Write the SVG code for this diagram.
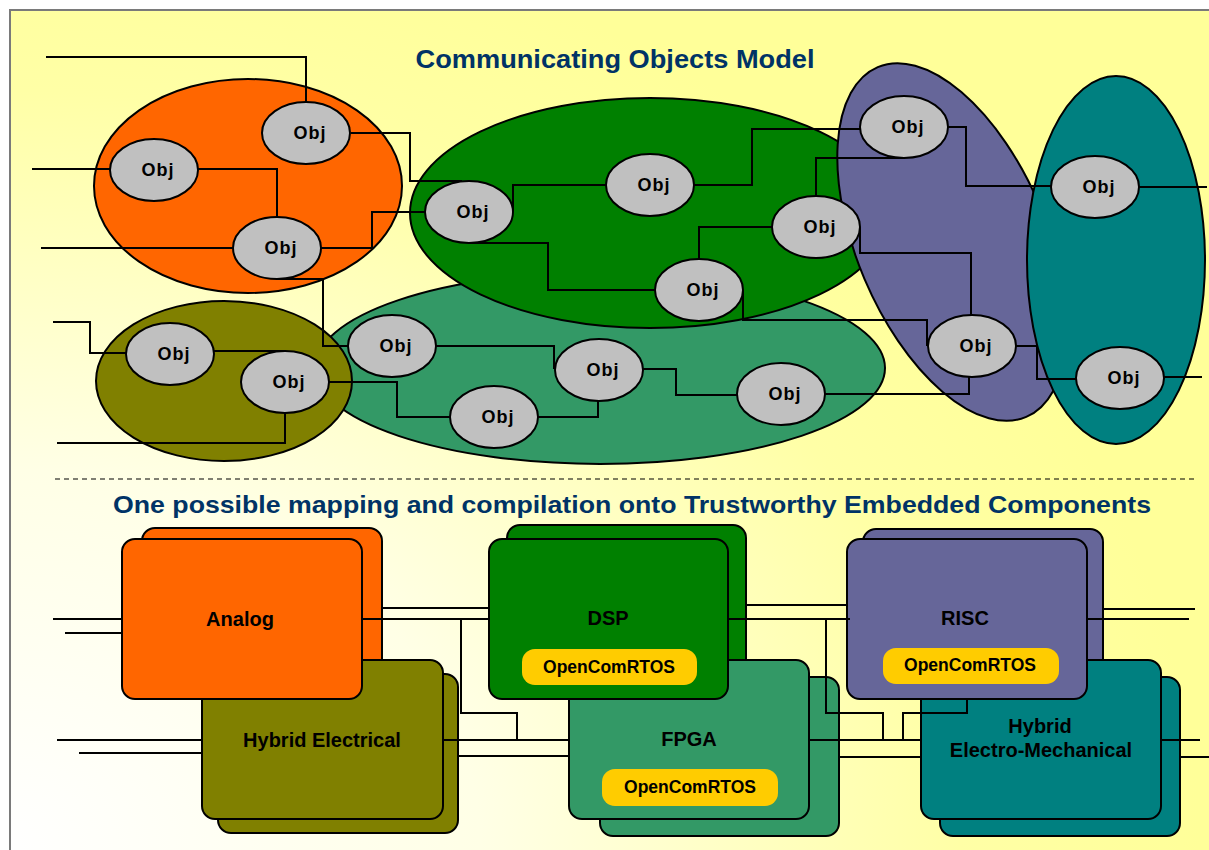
<svg xmlns="http://www.w3.org/2000/svg" width="1209" height="850" viewBox="0 0 1209 850">
<defs>
<radialGradient id="bg" gradientUnits="userSpaceOnUse" cx="0" cy="850" r="1000" gradientTransform="translate(0 850) scale(1.2 0.95) translate(0 -850)">
<stop offset="0" stop-color="#FFFFFF"/>
<stop offset="0.4" stop-color="#FFFFE6"/>
<stop offset="0.8" stop-color="#FFFFA6"/>
<stop offset="1" stop-color="#FFFF99"/>
</radialGradient>
</defs>
<style>
.title{font-family:"Liberation Sans",Arial,sans-serif;font-weight:bold;fill:#003366;text-anchor:middle}
.big{stroke:#000;stroke-width:2}
.obj{fill:#C0C0C0;stroke:#000;stroke-width:2}
.objt{font-family:"Liberation Sans",Arial,sans-serif;font-weight:bold;font-size:18px;letter-spacing:1px;text-anchor:middle;fill:#000}
.box{stroke:#000;stroke-width:2}
.lbl{font-family:"Liberation Sans",Arial,sans-serif;font-weight:bold;font-size:20px;text-anchor:middle;fill:#000}
.pill{fill:#FFCC00}
.pt{font-family:"Liberation Sans",Arial,sans-serif;font-weight:bold;font-size:17.5px;text-anchor:middle;fill:#000}
.ln{fill:none;stroke:#000;stroke-width:2}
</style>
<rect x="0" y="0" width="1209" height="850" fill="#FFFFFF"/>
<rect x="10" y="10" width="1199" height="840" fill="url(#bg)"/>
<polyline points="10,850 10,10 1209,10" fill="none" stroke="#7A7A7A" stroke-width="2"/>

<text class="title" x="615" y="68" font-size="26" textLength="399" lengthAdjust="spacingAndGlyphs">Communicating Objects Model</text>
<line x1="55" y1="479" x2="1195" y2="479" stroke="#000" stroke-width="1.2" stroke-dasharray="5,4"/>
<text class="title" x="632" y="513" font-size="24" textLength="1038" lengthAdjust="spacingAndGlyphs">One possible mapping and compilation onto Trustworthy Embedded Components</text>

<g id="domains">
<ellipse id="dom-orange" class="big" cx="248" cy="186" rx="154" ry="107" fill="#FF6600"/>
<ellipse id="dom-seagreen" class="big" cx="600" cy="368" rx="285" ry="96" fill="#339966"/>
<ellipse id="dom-green" class="big" cx="650" cy="213" rx="240" ry="115" fill="#008000"/>
<ellipse id="dom-olive" class="big" cx="224" cy="381" rx="128" ry="80" fill="#808000"/>
<ellipse id="dom-purple" class="big" cx="952" cy="242" rx="95" ry="190" fill="#666699" transform="rotate(-23 952 242)"/>
<ellipse id="dom-teal" class="big" cx="1116" cy="260" rx="89" ry="184" fill="#008080"/>
</g>

<g id="analog">
<rect class="box" x="142" y="528" width="240" height="160" rx="13" fill="#FF6600"/>
</g>
<g id="dsp-back">
<rect class="box" x="507" y="525" width="239" height="160" rx="13" fill="#008000"/>
</g>
<g id="risc-back">
<rect class="box" x="863" y="529" width="240" height="160" rx="13" fill="#666699"/>
</g>
<g id="hybrid-electrical">
<rect class="box" x="218" y="674" width="240" height="159" rx="13" fill="#808000"/>
<rect class="box" x="202" y="660" width="241" height="159" rx="13" fill="#808000"/>
<text class="lbl" x="322" y="747">Hybrid Electrical</text>
</g>
<g id="analog-front">
<rect class="box" x="122" y="539" width="240" height="160" rx="13" fill="#FF6600"/>
<text class="lbl" x="240" y="626">Analog</text>
</g>
<g id="fpga">
<rect class="box" x="600" y="677" width="239" height="159" rx="13" fill="#339966"/>
<rect class="box" x="569" y="660" width="240" height="159" rx="13" fill="#339966"/>
<text class="lbl" x="689" y="746">FPGA</text>
<rect class="pill" x="602" y="769" width="176" height="37" rx="13"/>
<text class="pt" x="690" y="793">OpenComRTOS</text>
</g>
<g id="dsp">
<rect class="box" x="489" y="539" width="239" height="160" rx="13" fill="#008000"/>
<text class="lbl" x="608" y="625">DSP</text>
<rect class="pill" x="522" y="649" width="175" height="36" rx="13"/>
<text class="pt" x="609" y="673">OpenComRTOS</text>
</g>
<g id="hybrid-electro-mechanical">
<rect class="box" x="940" y="677" width="240" height="159" rx="13" fill="#008080"/>
<rect class="box" x="921" y="660" width="240" height="159" rx="13" fill="#008080"/>
<text class="lbl" x="1040" y="733">Hybrid</text>
<text class="lbl" x="1041" y="757">Electro-Mechanical</text>
</g>
<g id="risc">
<rect class="box" x="847" y="539" width="240" height="160" rx="13" fill="#666699"/>
<text class="lbl" x="965" y="625" font-weight="normal" font-size="19">RISC</text>
<rect class="pill" x="883" y="648" width="176" height="36" rx="13"/>
<text class="pt" x="970" y="671">OpenComRTOS</text>
</g>

<g id="connectors">
<polyline class="ln" points="46,57 306,57 306,103"/>
<polyline class="ln" points="32,169 110,169"/>
<polyline class="ln" points="198,169 277,169 277,217"/>
<polyline class="ln" points="41,248 233,248"/>
<polyline class="ln" points="351,133 410,133 410,181 462,181"/>
<polyline class="ln" points="321,248 372,248 372,212 425,212"/>
<polyline class="ln" points="277,279 323,279 323,346 348,346"/>
<polyline class="ln" points="513,212 513,185 606,185"/>
<polyline class="ln" points="469,243 548,243 548,290 655,290"/>
<polyline class="ln" points="694,185 752,185 752,129 860,129"/>
<polyline class="ln" points="816,197 816,158 904,158"/>
<polyline class="ln" points="699,259 699,227 772,227"/>
<polyline class="ln" points="743,290 743,320 927,320 927,346"/>
<polyline class="ln" points="948,127 966,127 966,186 1051,186"/>
<polyline class="ln" points="1139,187 1207,187"/>
<polyline class="ln" points="860,227 860,253 971,253 971,316"/>
<polyline class="ln" points="1016,346 1037,346 1037,379 1076,379"/>
<polyline class="ln" points="1164,377 1202,377"/>
<polyline class="ln" points="969,377 969,394 825,394"/>
<polyline class="ln" points="436,346 554,346 554,369"/>
<polyline class="ln" points="598,401 598,417 538,417"/>
<polyline class="ln" points="643,369 676,369 676,395 737,395"/>
<polyline class="ln" points="329,382 397,382 397,417 450,417"/>
<polyline class="ln" points="53,322 90,322 90,353 126,353"/>
<polyline class="ln" points="214,351 284,351"/>
<polyline class="ln" points="285,413 285,443 57,443"/>

<polyline class="ln" points="53,619 122,619"/>
<polyline class="ln" points="65,633 122,633"/>
<polyline class="ln" points="57,740 202,740"/>
<polyline class="ln" points="79,753 139,753" stroke="#A8A8A8"/>
<polyline class="ln" points="139,753 202,753"/>
<polyline class="ln" points="382,608 489,608"/>
<polyline class="ln" points="362,619 489,619"/>
<polyline class="ln" points="461,619 461,713 517,713 517,740"/>
<polyline class="ln" points="443,740 569,740"/>
<polyline class="ln" points="458,756 569,756"/>
<polyline class="ln" points="746,605 847,605"/>
<polyline class="ln" points="728,619 850,619"/>
<polyline class="ln" points="826,619 826,713 883,713 883,740"/>
<polyline class="ln" points="809,740 921,740"/>
<polyline class="ln" points="839,757 921,757"/>
<polyline class="ln" points="967,700 967,713 903,713 903,740"/>
<polyline class="ln" points="1103,609 1195,609"/>
<polyline class="ln" points="1087,619 1189,619"/>
<polyline class="ln" points="1161,740 1200,740"/>
<polyline class="ln" points="1180,757 1209,757"/>
</g>

<g id="obj-a1"><ellipse class="obj" cx="306" cy="133" rx="44" ry="31"/><text class="objt" x="310" y="139">Obj</text></g>
<g id="obj-a2"><ellipse class="obj" cx="154" cy="170" rx="44" ry="31"/><text class="objt" x="158" y="176">Obj</text></g>
<g id="obj-a3"><ellipse class="obj" cx="277" cy="248" rx="44" ry="31"/><text class="objt" x="281" y="254">Obj</text></g>
<g id="obj-b1"><ellipse class="obj" cx="469" cy="212" rx="44" ry="31"/><text class="objt" x="473" y="218">Obj</text></g>
<g id="obj-b2"><ellipse class="obj" cx="650" cy="185" rx="44" ry="31"/><text class="objt" x="654" y="191">Obj</text></g>
<g id="obj-b3"><ellipse class="obj" cx="816" cy="227" rx="44" ry="31"/><text class="objt" x="820" y="233">Obj</text></g>
<g id="obj-b4"><ellipse class="obj" cx="699" cy="290" rx="44" ry="31"/><text class="objt" x="703" y="296">Obj</text></g>
<g id="obj-c1"><ellipse class="obj" cx="904" cy="127" rx="44" ry="31"/><text class="objt" x="908" y="133">Obj</text></g>
<g id="obj-c2"><ellipse class="obj" cx="972" cy="346" rx="44" ry="31"/><text class="objt" x="976" y="352">Obj</text></g>
<g id="obj-d1"><ellipse class="obj" cx="1095" cy="187" rx="44" ry="31"/><text class="objt" x="1099" y="193">Obj</text></g>
<g id="obj-d2"><ellipse class="obj" cx="1120" cy="378" rx="44" ry="31"/><text class="objt" x="1124" y="384">Obj</text></g>
<g id="obj-e1"><ellipse class="obj" cx="170" cy="354" rx="44" ry="31"/><text class="objt" x="174" y="360">Obj</text></g>
<g id="obj-e2"><ellipse class="obj" cx="285" cy="382" rx="44" ry="31"/><text class="objt" x="289" y="388">Obj</text></g>
<g id="obj-f1"><ellipse class="obj" cx="392" cy="346" rx="44" ry="31"/><text class="objt" x="396" y="352">Obj</text></g>
<g id="obj-f2"><ellipse class="obj" cx="599" cy="370" rx="44" ry="31"/><text class="objt" x="603" y="376">Obj</text></g>
<g id="obj-f3"><ellipse class="obj" cx="494" cy="417" rx="44" ry="31"/><text class="objt" x="498" y="423">Obj</text></g>
<g id="obj-f4"><ellipse class="obj" cx="781" cy="394" rx="44" ry="31"/><text class="objt" x="785" y="400">Obj</text></g>
</svg>
